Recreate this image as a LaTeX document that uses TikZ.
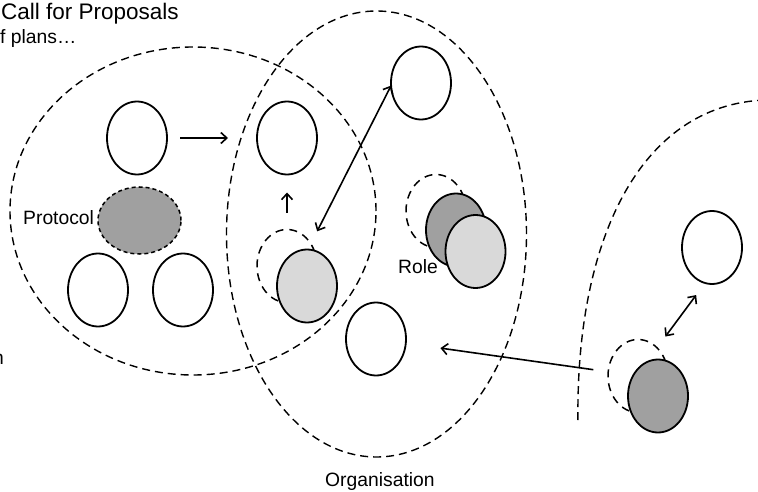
\documentclass[tikz,border=0pt]{standalone}
\usepackage{fontspec}
\setmainfont{Liberation Sans}
\usetikzlibrary{shapes.geometric,arrows.meta}
\definecolor{darkfill}{HTML}{A0A0A0}
\definecolor{lightfill}{HTML}{D9D9D9}
\begin{document}
\begin{tikzpicture}[x=1pt,y=-1pt,
  agent/.style={ellipse, draw, line width=1.8pt, fill=white,
    minimum width=60pt, minimum height=73pt, inner sep=0pt, outer sep=0pt},
  ghost/.style={ellipse, draw, line width=1.5pt, dash pattern=on 8pt off 6pt,
    minimum width=60pt, minimum height=73pt, inner sep=0pt, outer sep=0pt},
  group/.style={ellipse, draw, line width=1.4pt, dash pattern=on 8pt off 5pt,
    inner sep=0pt, outer sep=0pt},
  groupline/.style={line width=1.4pt, dash pattern=on 8pt off 5pt},
  protocolbox/.style={ellipse, draw, line width=1.5pt, dash pattern=on 4pt off 3pt,
    fill=darkfill, minimum width=83pt, minimum height=67pt, inner sep=0pt, outer sep=0pt},
  lbl/.style={anchor=base west, inner sep=0pt, font=\fontsize{19.3}{22}\selectfont},
  tip/.tip={Straight Barb[length=6pt,width=11pt]},
  arr/.style={line width=1.6pt, -tip},
  dbl/.style={line width=1.6pt, tip-tip},
]
\useasboundingbox (0,0) rectangle (758,492);

% group boundaries
\node[group, minimum width=366pt, minimum height=328pt] (plans) at (193,211) {};
\node[group, minimum width=300pt, minimum height=446pt] (org) at (376.5,234) {};
\draw[groupline] (765,100) .. controls (640,105) and (575,240) .. (578,424);

% plan of the left group
\node[agent] (e1) at (137,138) {};
\node[protocolbox] (protocol) at (139.5,220.5) {};
\node[agent] (e3) at (98,290) {};
\node[agent] (e4) at (183,290) {};

% organisation
\node[agent] (e2) at (287,138) {};
\node[ghost] (g5) at (287,266) {};
\node[agent, fill=lightfill] (e5) at (307,286) {};
\node[agent] (e6) at (421,83) {};
\node[agent] (e7) at (376,339) {};
\node[ghost] (gr) at (436,211) {};
\node[agent, fill=darkfill] (r1) at (456,230) {};
\node[agent, fill=lightfill] (r2) at (475.5,251.5) {};

% right group
\node[agent] (e8) at (712,247.5) {};
\node[ghost] (g9) at (638,376) {};
\node[agent, fill=darkfill] (e9) at (658,396) {};

% connectors
\draw[arr, shorten <=13pt, shorten >=29pt] (e1) -- (e2);
\draw[arr, shorten <=17pt, shorten >=18pt] (g5) -- (e2);
\draw[dbl, shorten >=14pt] (e6.185) -- (g5.43);
\draw[dbl, shorten <=15pt, shorten >=14pt] (e8.259) -- (g9.56);
\draw[arr, shorten <=15pt, shorten >=35pt] (g9) -- (e7);

% labels
\node[lbl, font=\fontsize{22.5}{26}\selectfont] (title) at (1,20) {Call for Proposals};
\node[lbl] (plansl) at (0,44) {f plans…};
\node[lbl] (protocoll) at (23,224) {Protocol};
\node[lbl] (rolel) at (398,273) {Role};
\node[lbl] (orgl) at (325,486.5) {Organisation};
\node[lbl] (cutl) at (-7,364) {n};
\end{tikzpicture}
\end{document}
